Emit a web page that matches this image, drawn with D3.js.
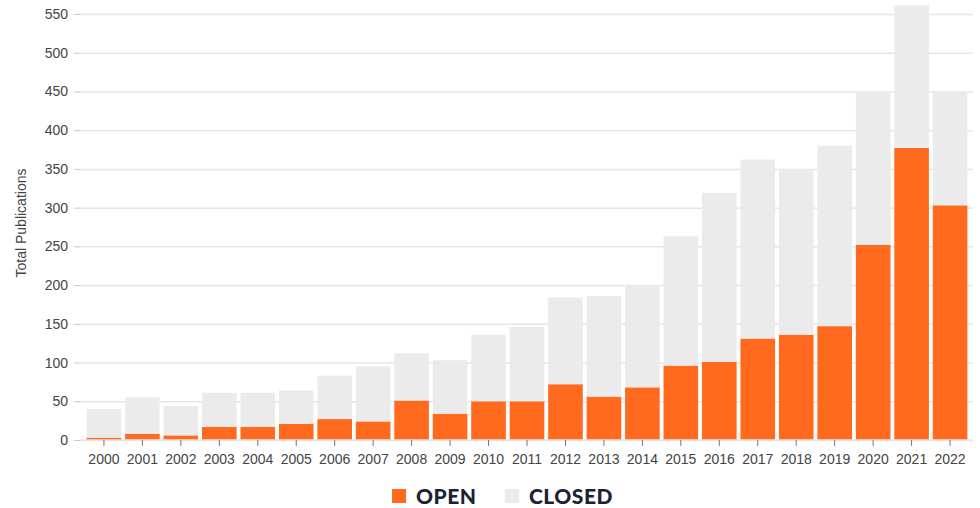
<!DOCTYPE html>
<html>
<head>
<meta charset="utf-8">
<script src="https://cdn.jsdelivr.net/npm/d3@7"></script>
<style>
  body { margin: 0; background: #fff; }
  svg { display: block; font-family: "Liberation Sans", Arial, sans-serif; }
  .grid line { stroke: #e6e6e6; stroke-width: 1.5; }
  .grid .domain { display: none; }
  .y-axis .domain { display: none; }
  .y-axis line { stroke: #c8c8c8; }
  .y-axis text, .x-axis text { fill: #444; font-size: 14px; }
  .x-axis .domain { stroke: #e6e6e6; stroke-width: 1.5; }
  .x-axis line { stroke: #777; }
  .legend text { font-family: Lato, "Open Sans", sans-serif; font-weight: 900; font-size: 21px; fill: #1b2233; letter-spacing: 0.5px; }
</style>
</head>
<body>
<svg id="chart" width="980" height="508"></svg>
<script>
const WIDTH = 980;
const HEIGHT = 508;
const MARGIN = { top: 14, right: 7, bottom: 68, left: 80 };

const YEARS = d3.range(2000, 2023).map(String);
const OPEN = [3, 8, 6, 17, 17, 21, 27, 24, 51, 34, 50, 50, 72, 56, 68, 96, 101, 131, 136, 147, 252, 377, 303];
const CLOSED = [37, 47, 38, 44, 44, 43, 56, 71, 61, 69, 86, 96, 112, 130, 132, 167, 218, 231, 214, 233, 198, 184, 147];
const Y_TICKS = d3.range(0, 551, 50);
const SERIES = ["OPEN", "CLOSED"];
const COLORS = ["#ff6a1f", "#ebebeb"];

const SVG = d3.select("#chart");

const ROWS = YEARS.map((y, i) => ({ year: y, OPEN: OPEN[i], CLOSED: CLOSED[i] }));
const STACK = d3.stack().keys(SERIES)(ROWS);

const SCALE_X = d3.scaleBand()
  .domain(YEARS)
  .range([MARGIN.left + 4.7, 969.3])
  .paddingInner(0.1)
  .paddingOuter(0.05);

const SCALE_Y = d3.scaleLinear()
  .domain([0, 550])
  .range([HEIGHT - MARGIN.bottom, MARGIN.top]);

const COLOR = d3.scaleOrdinal().domain(SERIES).range(COLORS);

// gridlines behind the bars
SVG.append("g")
  .attr("class", "grid")
  .attr("transform", `translate(${MARGIN.left},0)`)
  .call(d3.axisLeft(SCALE_Y).tickValues(Y_TICKS).tickSize(-(WIDTH - MARGIN.left - MARGIN.right)).tickFormat(""));

SVG.append("g")
  .attr("class", "y-axis")
  .attr("transform", `translate(${MARGIN.left},0)`)
  .call(d3.axisLeft(SCALE_Y).tickValues(Y_TICKS).tickSize(6).tickPadding(6));

SVG.append("g")
  .selectAll("g")
  .data(STACK)
  .join("g")
  .attr("fill", d => COLOR(d.key))
  .selectAll("rect")
  .data(d => d)
  .join("rect")
  .attr("x", d => SCALE_X(d.data.year))
  .attr("width", SCALE_X.bandwidth())
  .attr("y", d => SCALE_Y(d[1]))
  .attr("height", d => SCALE_Y(d[0]) - SCALE_Y(d[1]));

const X_AXIS = SVG.append("g")
  .attr("class", "x-axis")
  .attr("transform", `translate(0,${HEIGHT - MARGIN.bottom})`)
  .call(d3.axisBottom(SCALE_X).tickSize(6).tickPadding(8).tickSizeOuter(0));
X_AXIS.select(".domain").attr("d", `M${MARGIN.left},0H${WIDTH - MARGIN.right}`);

SVG.append("text")
  .attr("transform", `translate(26,223) rotate(-90)`)
  .attr("text-anchor", "middle")
  .attr("fill", "#444")
  .style("font-size", "14px")
  .text("Total Publications");

// legend
const LEGEND = SVG.append("g").attr("class", "legend");
const LEGEND_X = [392, 505];
SERIES.forEach((s, i) => {
  LEGEND.append("rect")
    .attr("x", LEGEND_X[i])
    .attr("y", 489)
    .attr("width", 14)
    .attr("height", 14)
    .attr("fill", COLOR(s));
  LEGEND.append("text")
    .attr("x", LEGEND_X[i] + 24)
    .attr("y", 503.5)
    .text(s);
});
</script>
</body>
</html>
